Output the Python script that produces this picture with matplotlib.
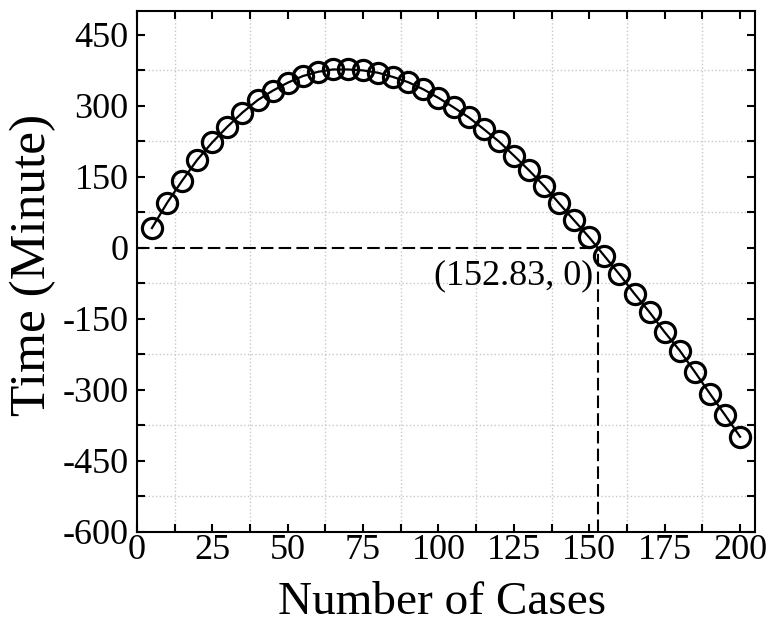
import numpy as np
import matplotlib
matplotlib.use('Agg')
import matplotlib.pyplot as plt
from matplotlib.ticker import MultipleLocator

# %% data

cases = [5, 10, 15, 20, 25, 30, 35, 40, 45, 50,
         55, 60, 65, 70, 75, 80, 85, 90, 95, 100,
         105, 110, 115, 120, 125, 130, 135, 140, 145, 150,
         155, 160, 165, 170, 175, 180, 185, 190, 195, 200]
time_min = [42, 95, 142, 186, 223, 256, 286, 312, 332, 349,
            363, 372, 377, 377, 375, 370, 361, 350, 335, 317,
            297, 276, 251, 225, 195, 164, 131, 94, 58, 22,
            -17, -56, -97, -136, -178, -217, -262, -308, -353, -399]
zero_x = 152.83

# %% plot

plt.rcParams['font.family'] = ['Liberation Serif', 'DejaVu Serif']
plt.rcParams['axes.unicode_minus'] = False

fig = plt.figure(figsize=(7.69, 6.25), dpi=100)
ax = fig.add_axes([0.178, 0.149, 0.804, 0.833])

ax.plot(cases, time_min, color='black', lw=1.6, marker='o', ms=14.5,
        mfc='none', mec='black', mew=2.3, zorder=3)

ax.plot([0, zero_x], [0, 0], color='black', lw=1.5, dashes=(6, 2.5), zorder=2)
ax.plot([zero_x, zero_x], [-600, 0], color='black', lw=1.5, dashes=(6, 2.5), zorder=2)
ax.text(zero_x - 1.5, -58, '(%.2f, 0)' % zero_x, ha='right', va='center',
        fontsize=26)

ax.set_xlim(0, 205)
ax.set_ylim(-600, 500)
ax.xaxis.set_major_locator(MultipleLocator(25))
ax.xaxis.set_minor_locator(MultipleLocator(12.5))
ax.set_yticks(np.arange(-600, 451, 150))
ax.yaxis.set_minor_locator(MultipleLocator(75))

ax.grid(False, which='major')
ax.grid(True, which='minor', color='#c8c8c8', ls=':', lw=1.0)

ax.tick_params(which='both', direction='in', top=True, right=True,
               length=6, width=1.5, labelsize=26)
ax.tick_params(axis='x', pad=1.5)
ax.tick_params(axis='y', pad=6)
for s in ax.spines.values():
    s.set_linewidth(1.5)

fig.text(442 / 769, 1 - 614 / 625, 'Number of Cases', fontsize=34,
         ha='center', va='baseline')
fig.text(33 / 769, 1 - 265 / 625, 'Time (Minute)', fontsize=37,
         ha='center', va='center', rotation=90)

fig.savefig('out.png', dpi=100)
